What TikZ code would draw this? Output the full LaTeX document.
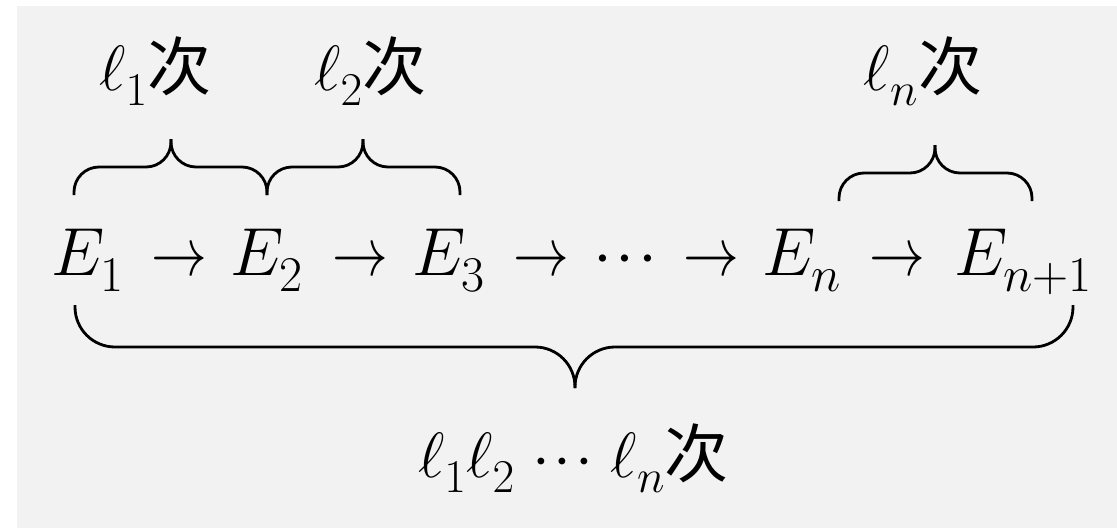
\RequirePackage{fix-cm}
\documentclass[tikz,border=0pt]{standalone}
\usepackage{fontspec}
\newfontfamily\cjk{Noto Sans CJK SC}
\DeclareMathSizes{68}{68}{50}{36}
\DeclareMathSizes{64}{64}{47}{34}
\definecolor{bggray}{HTML}{F2F2F2}
\newcommand{\mydots}{\mathord{\cdot}\mkern1mu\mathord{\cdot}\mkern1mu\mathord{\cdot}}
\newcommand{\myarrow}{\scalebox{0.82}[1]{$\rightarrow$}}
\newcommand{\lo}[1]{\raisebox{-6pt}{$\scriptstyle #1$}}
\tikzset{
  mathtxt/.style={inner sep=0pt, anchor=base, font=\fontsize{68}{80}\selectfont},
  lbltxt/.style={inner sep=0pt, anchor=base, font=\fontsize{64}{76}\selectfont},
  bracestyle/.style={line width=2.8pt, draw=black},
}
\begin{document}
\begin{tikzpicture}[x=1pt,y=-1pt]
\useasboundingbox (0,0) rectangle (1117,528);
\fill[white] (0,0) rectangle (1117,528);
\fill[bggray] (17,6) rectangle (1117,528);

% main line
\node[mathtxt] (e1) at (87.5,275) {$E_{\lo{1}}$};
\node[mathtxt] (a1) at (179.5,275) {\myarrow};
\node[mathtxt] (e2) at (266.5,275) {$E_{\lo{2}}$};
\node[mathtxt] (a2) at (360.5,275) {\myarrow};
\node[mathtxt] (e3) at (448.5,275) {$E_{\lo{3}}$};
\node[mathtxt] (a3) at (541,275) {\myarrow};
\node[mathtxt] (dd) at (625.5,275) {$\mydots$};
\node[mathtxt] (a4) at (711.5,275) {\myarrow};
\node[mathtxt] (en) at (802,275) {$E_{\lo{n}}$};
\node[mathtxt] (a5) at (897,275) {\myarrow};
\node[mathtxt] (enp) at (1023,275) {$E_{\lo{n+1}}$};

% top labels
\node[lbltxt] (l1) at (155.5,90) {$\ell_{\lo{1}}${\cjk 次}};
\node[lbltxt] (l2) at (370.5,90) {$\ell_{\lo{2}}${\cjk 次}};
\node[lbltxt] (ln) at (923,90) {$\ell_{\lo{n}}${\cjk 次}};

% bottom label
\node[lbltxt] (lall) at (573.5,477) {$\ell_{\lo{1}}\ell_{\lo{2}}\;\mydots\;\ell_{\lo{n}}${\cjk 次}};

% top braces
\draw[bracestyle, rounded corners=25pt] (74,195) -- (74,167) -- (171,167) -- (171,139);
\draw[bracestyle, rounded corners=25pt] (267,195) -- (267,167) -- (171,167) -- (171,139);
\draw[bracestyle, rounded corners=25pt] (267,195) -- (267,167) -- (363,167) -- (363,139);
\draw[bracestyle, rounded corners=25pt] (460,195) -- (460,167) -- (363,167) -- (363,139);
\draw[bracestyle, rounded corners=25pt] (839,201) -- (839,173) -- (935,173) -- (935,145);
\draw[bracestyle, rounded corners=25pt] (1032,201) -- (1032,173) -- (935,173) -- (935,145);

% bottom brace
\draw[bracestyle, rounded corners=40pt] (75,305) -- (75,347) -- (575,347) -- (575,388);
\draw[bracestyle, rounded corners=40pt] (1073,305) -- (1073,347) -- (575,347) -- (575,388);
\end{tikzpicture}
\end{document}
